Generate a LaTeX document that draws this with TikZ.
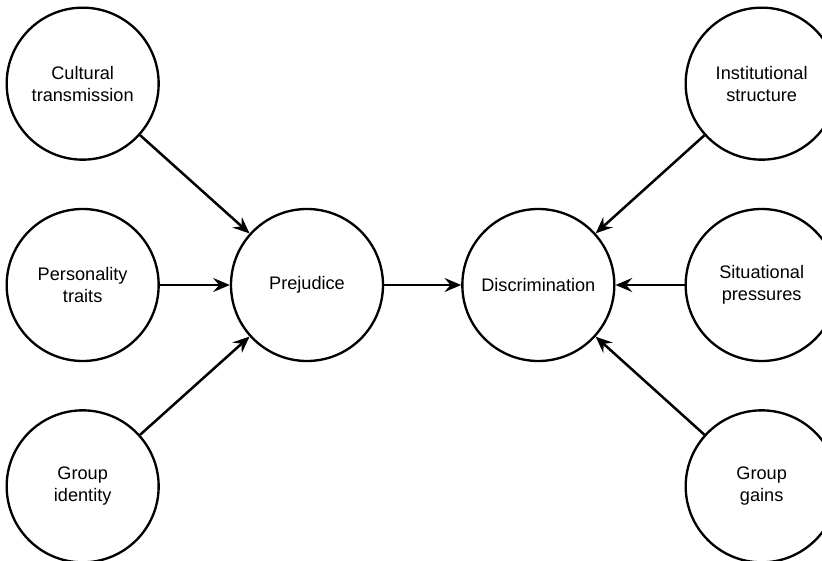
\documentclass[tikz,border=0pt]{standalone}
\usepackage{fontspec}
\setmainfont{Liberation Sans}
\usepackage{tikz}
\usetikzlibrary{positioning, arrows.meta, shapes}

\begin{document}
\begin{tikzpicture}[auto]
        \tikzstyle{factor} = [circle, draw, line width=0.7mm, minimum size=45.6mm, inner sep=0pt, align=center, font=\fontsize{15.5}{18.6}\selectfont]
        \tikzstyle{arrow} = [line width=0.75mm, -{Stealth[length=5mm, width=4.2mm, inset=1.8mm]}]

        \useasboundingbox (-92.1mm,-82.5mm) rectangle (154.5mm,85.5mm);

        \node [factor] (prej) at (0,0) {Prejudice};
        \node [factor, right=23.1mm of prej] (discr) {Discrimination};

        \node [factor, left=21mm of prej] (pers) {Personality\\traits};
        \node [factor, above=14.1mm of pers] (cult) {Cultural\\transmission};
        \node [factor, below=14.1mm of pers] (ident) {Group\\identity};

        \node [factor, right=20.7mm of discr] (sit) {Situational\\pressures};
        \node [factor, above=14.1mm of sit] (inst) {Institutional\\structure};
        \node [factor, below=14.1mm of sit] (gains) {Group\\gains};

        \draw [arrow] (cult) -- (prej);
        \draw [arrow] (pers) -- (prej);
        \draw [arrow] (ident) -- (prej);
        \draw [arrow] (prej) -- (discr);
        \draw [arrow] (inst) -- (discr);
        \draw [arrow] (sit) -- (discr);
        \draw [arrow] (gains) -- (discr);
    \end{tikzpicture}
\end{document}
